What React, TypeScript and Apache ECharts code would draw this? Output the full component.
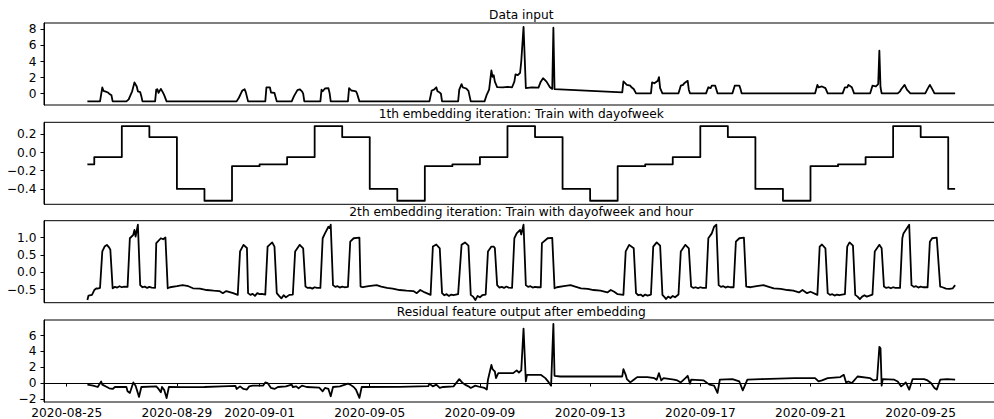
import React, { useEffect, useRef } from "react";
import * as echarts from "echarts";

// ---------- data ----------
const START = Date.UTC(2020, 7, 25); // 2020-08-25 00:00 UTC
const HOUR = 3600000;
const X_MIN_H = -19.8;
const X_MAX_H = 811.8;
const DATA_START_H = 18;
const DATA_END_H = 774;

const TICK_DATES = [
  "2020-08-25", "2020-08-29", "2020-09-01", "2020-09-05", "2020-09-09",
  "2020-09-13", "2020-09-17", "2020-09-21", "2020-09-25",
];

const TITLES = [
  "Data input",
  "1th embedding iteration: Train with dayofweek",
  "2th embedding iteration: Train with dayofweek and hour",
  "Residual feature output after embedding",
];

// [hours since 2020-08-25 00:00, value]
const INPUT: [number, number][] = [
  [18,-0.95],[29,-0.95],[31,0.78],[32,0.35],[34,0.25],[36,0.15],[37,0.0],[39,-0.2],[40,-0.95],
  [52,-0.95],[54,-0.7],[55,-0.35],[57,0.3],[59,1.4],[61,0.9],[62,0.3],[64,0.2],[65,-0.3],[66,-0.95],
  [77,-0.95],[78,0.5],[79,0.55],[80,0.1],[82,0.6],[84,0.1],[85,-0.2],[87,-0.95],
  [148,-0.95],[150,-0.5],[152,0.1],[153,0.4],[155,0.55],[156,0.2],[158,-0.95],
  [173,-0.95],[174,0.8],[177,0.8],[178,0.15],[181,0.1],[183,-0.95],
  [196,-0.95],[198,-0.3],[200,0.2],[201,0.45],[203,0.55],[205,0.3],[206,0.0],[207,-0.95],
  [221,-0.95],[222,0.5],[223,0.3],[225,0.65],[228,0.7],[229,0.1],[230,-0.95],
  [245,-0.95],[246,0.7],[248,0.4],[250,0.35],[252,0.3],[253,0.0],[255,-0.95],
  [316,-0.95],[318,0.4],[320,0.5],[322,0.8],[323,0.3],[325,0.15],[326,0.0],[327,-0.95],
  [341,-0.95],[342,0.5],[344,1.2],[345,0.8],[348,0.65],[350,0.35],[352,-0.95],
  [364,-0.95],[366,-0.1],[368,0.5],[370,2.9],[371,2.1],[372,2.3],[373,1.5],[375,0.83],[380,0.8],[384,0.85],[388,0.8],
  [390,1.5],[391,2.4],[393,2.3],[395,2.6],[396,4.0],[398,8.3],[400,0.7],[405,0.8],[411,0.75],
  [413,1.5],[415,1.93],[418,1.5],[421,0.8],[423,0.6],[424,8.2],[425,0.58],
  [484,0.17],[485,1.52],[488,1.1],[491,1.0],[492,0.8],[494,0.58],[496,0.05],
  [509,0.05],[510,1.4],[512,1.3],[515,1.6],[516,2.06],[517,0.7],[519,0.05],
  [533,0.05],[535,1.0],[537,1.1],[538,1.3],[541,1.6],[542,0.5],[543,0.05],
  [557,0.05],[559,0.8],[561,0.7],[562,1.0],[565,1.0],[567,0.05],
  [580,0.05],[582,1.0],[586,1.0],[587,0.6],[588,0.05],
  [652,0.05],[654,1.1],[655,0.8],[658,0.9],[661,0.7],[663,0.05],
  [676,0.05],[678,0.8],[680,0.8],[681,1.1],[684,0.8],[686,0.05],
  [700,0.05],[702,1.0],[705,0.9],[707,1.2],[708,5.35],[709,0.8],[710,0.05],
  [724,0.05],[726,0.3],[727,0.55],[730,1.1],[732,0.5],[735,0.05],
  [748,0.05],[750,0.6],[752,1.1],[754,0.6],[756,0.05],[774,0.05],
];

// one value per day, 2020-08-25 .. 2020-09-26
const DAY_EMBED: number[] = [
  -0.13, -0.05, 0.29, 0.17, -0.40, -0.53, -0.15,
  -0.13, -0.05, 0.29, 0.17, -0.40, -0.53, -0.15,
  -0.13, -0.05, 0.29, 0.17, -0.40, -0.53, -0.15,
  -0.13, -0.05, 0.29, 0.17, -0.40, -0.53, -0.15,
  -0.13, -0.05, 0.29, 0.17, -0.40,
];

const HOUR_EMBED: [number, number][] = [
  [18,-0.80],[19,-0.67],[22,-0.65],[24,-0.51],[26,-0.46],[27,-0.47],[29,-0.45],[31,0.60],[33,0.74],[35,0.79],[37,0.71],[38,0.65],[39,0.1],[40,-0.46],
  [42,-0.42],[44,-0.44],[46,-0.40],[48,-0.43],[50,-0.41],[53,-0.42],
  [55,0.98],[58,1.08],[59,1.22],[60,1.03],[62,1.37],[64,-0.37],
  [66,-0.43],[68,-0.41],[70,-0.45],[72,-0.42],[74,-0.44],[77,-0.45],
  [78,0.84],[82,0.98],[84,0.95],[86,1.0],[88,-0.46],
  [90,-0.43],[96,-0.40],[101,-0.37],[106,-0.40],[110,-0.46],[116,-0.47],[122,-0.51],[128,-0.53],[133,-0.54],[136,-0.60],[139,-0.54],[142,-0.57],[145,-0.60],[149,-0.65],
  [151,0.60],[154,0.79],[157,0.70],[158,-0.60],
  [160,-0.65],[162,-0.62],[164,-0.68],[166,-0.60],[168,-0.63],[170,-0.62],[173,-0.64],
  [175,0.74],[179,0.86],[181,0.74],[183,-0.60],
  [185,-0.68],[187,-0.75],[189,-0.66],[191,-0.72],[194,-0.65],[197,-0.64],
  [199,0.60],[203,0.79],[206,0.69],[208,-0.41],
  [210,-0.45],[212,-0.44],[214,-0.47],[216,-0.43],[218,-0.45],[221,-0.45],
  [223,0.98],[225,1.12],[228,1.31],[229,1.27],[230,1.37],[232,-0.37],
  [234,-0.42],[236,-0.40],[238,-0.44],[240,-0.41],[242,-0.43],[245,-0.42],
  [247,0.88],[250,0.98],[255,1.0],[256,-0.41],
  [258,-0.43],[263,-0.40],[270,-0.37],[274,-0.41],[279,-0.45],[284,-0.47],[290,-0.51],[296,-0.53],[302,-0.54],[305,-0.60],[308,-0.51],[312,-0.58],[317,-0.65],
  [319,0.74],[322,0.80],[325,0.69],[327,-0.60],
  [329,-0.66],[331,-0.63],[333,-0.68],[335,-0.64],[337,-0.66],[341,-0.63],
  [344,0.79],[347,0.86],[350,0.77],[352,-0.65],
  [354,-0.70],[356,-0.80],[358,-0.68],[360,-0.72],[362,-0.66],[365,-0.64],
  [367,0.60],[370,0.74],[372,0.74],[373,0.70],[375,-0.37],
  [377,-0.44],[379,-0.42],[381,-0.45],[383,-0.41],[385,-0.44],[388,-0.45],
  [390,0.98],[392,1.12],[395,1.22],[396,1.09],[398,1.37],[400,-0.37],
  [402,-0.42],[404,-0.40],[406,-0.44],[408,-0.42],[410,-0.43],[413,-0.43],
  [414,0.84],[419,0.98],[423,0.99],[425,-0.46],
  [427,-0.43],[433,-0.40],[439,-0.37],[443,-0.41],[448,-0.46],[454,-0.48],[459,-0.51],[465,-0.53],[471,-0.58],[474,-0.51],[477,-0.56],[480,-0.63],[485,-0.65],
  [487,0.60],[490,0.79],[494,0.69],[496,-0.60],
  [498,-0.66],[500,-0.64],[502,-0.69],[504,-0.64],[506,-0.67],[509,-0.64],
  [511,0.74],[514,0.86],[517,0.77],[519,-0.65],
  [521,-0.72],[522,-0.77],[524,-0.70],[526,-0.74],[528,-0.68],[530,-0.72],[533,-0.64],
  [535,0.60],[539,0.79],[542,0.69],[544,-0.41],
  [546,-0.45],[548,-0.43],[550,-0.46],[552,-0.43],[554,-0.45],[557,-0.45],
  [559,0.98],[562,1.12],[564,1.31],[566,1.37],[568,-0.37],
  [570,-0.42],[572,-0.40],[574,-0.44],[576,-0.41],[578,-0.43],[581,-0.43],
  [583,0.88],[586,0.98],[590,1.0],[592,-0.41],
  [596,-0.43],[601,-0.40],[607,-0.37],[611,-0.41],[616,-0.46],[622,-0.48],[628,-0.51],[633,-0.53],[638,-0.58],[641,-0.51],[645,-0.60],[648,-0.56],[654,-0.65],
  [656,0.74],[658,0.80],[661,0.69],[663,-0.60],
  [665,-0.65],[667,-0.63],[669,-0.67],[671,-0.64],[673,-0.66],[678,-0.63],
  [680,0.74],[682,0.86],[685,0.77],[687,-0.65],
  [689,-0.70],[691,-0.77],[693,-0.70],[695,-0.66],[697,-0.70],[702,-0.64],
  [704,0.60],[708,0.79],[710,0.69],[712,-0.41],
  [714,-0.45],[716,-0.43],[718,-0.46],[720,-0.43],[722,-0.45],[726,-0.45],
  [728,0.98],[729,1.12],[732,1.27],[734,1.37],[736,-0.37],
  [738,-0.42],[740,-0.40],[742,-0.44],[744,-0.41],[746,-0.43],[750,-0.43],
  [752,0.88],[754,0.98],[758,1.0],[761,-0.41],
  [763,-0.43],[766,-0.47],[769,-0.48],[772,-0.46],[774,-0.37],
];

const RESIDUAL: [number, number][] = [
  [18,-0.20],[23,-0.33],[27,-0.50],[30,0.20],[31,-0.20],[35,-0.50],[37,-0.67],[40,-0.75],[42,-0.50],[52,-0.50],[53,-1.04],[55,-1.25],[58,0.08],[60,-0.33],[63,-1.75],[65,-0.50],
  [78,-0.42],[80,-0.75],[82,-1.17],[83,-0.50],[85,-0.90],[87,-1.90],[89,-0.50],[100,-0.52],[120,-0.50],[135,-0.42],[147,-0.35],
  [148,-0.75],[151,-0.42],[154,-0.75],[157,-0.83],[159,-0.42],[162,-0.33],[171,-0.33],[173,0.08],[175,0.0],[178,-0.62],[181,-0.75],[184,-0.50],[191,-0.42],
  [196,-0.20],[197,-0.50],[200,-0.42],[202,-0.67],[205,-0.33],[209,-0.50],[220,-0.58],[223,-1.04],[225,-0.62],[228,-0.75],[230,-1.67],[232,-0.50],[238,-0.42],
  [245,-0.08],[247,-0.20],[250,-0.50],[252,-0.83],[255,-1.87],[257,-0.50],[290,-0.48],[315,-0.40],
  [316,-0.08],[319,-0.42],[322,-0.20],[325,-0.62],[328,-0.50],[337,-0.42],[342,0.50],[345,0.0],[347,-0.20],[350,-0.42],[352,-0.62],[356,-0.33],[360,-0.50],[364,-0.62],[366,-0.83],
  [367,0.42],[370,2.30],[371,1.75],[372,1.60],[373,1.46],[374,0.62],[376,1.25],[389,1.25],[392,1.60],[394,1.33],[396,1.60],[398,6.90],[400,0.20],[401,1.04],[413,1.04],[417,0.62],[420,0.08],[422,-0.33],[424,7.50],[425,0.92],[430,0.83],
  [484,0.83],[485,1.75],[487,1.04],[488,0.50],[491,0.08],[494,0.42],[497,0.75],[506,0.75],[512,0.62],[514,0.42],[516,1.25],[518,0.33],[520,0.62],[529,0.42],[532,0.33],[535,0.08],[539,0.62],[541,0.92],[543,-0.08],[544,0.42],
  [555,0.33],[560,-0.20],[564,-0.33],[567,-1.25],[569,0.42],[580,0.50],[586,0.20],[589,-0.92],[593,0.42],[605,0.50],[634,0.62],
  [652,0.62],[655,0.20],[658,0.33],[663,0.62],[674,0.75],[677,1.04],[679,0.08],[681,0.20],[684,0.0],[689,0.83],[700,0.62],[703,0.33],[706,0.42],[708,4.58],[709,4.40],[710,-0.33],[711,0.50],
  [721,0.42],[724,0.20],[727,-0.42],[729,-0.20],[731,0.08],[734,-0.83],[737,0.50],[747,0.50],[750,0.33],[753,0.0],[756,-0.62],[758,-0.83],[761,0.42],[767,0.50],[774,0.42],
];

const Y_LIMITS: [number, number][] = [
  [-1.40, 8.78],
  [-0.569, 0.332],
  [-0.875, 1.485],
  [-2.40, 7.98],
];
const Y_TICKS: number[][] = [
  [0, 2, 4, 6, 8],
  [-0.4, -0.2, 0.0, 0.2],
  [-0.5, 0.0, 0.5, 1.0],
  [-2, 0, 2, 4, 6],
];
const Y_DECIMALS = [0, 1, 1, 0];

// ---------- layout ----------
const GRID_TOPS = [23, 122.3, 220.7, 320];
const GRID_HEIGHT = 82;
const GRID_LEFT = 44;
const GRID_WIDTH = 954.5;
const FONT = "DejaVu Sans";
const FONT_SIZE = 12.2;

const toMs = (h: number) => START + h * HOUR;
const fmtNum = (v: number, d: number) => {
  const s = Math.abs(v).toFixed(d);
  return (v < -1e-9 ? "\u2212" : "") + s;
};
const fmtDate = (ms: number) => {
  const dt = new Date(ms);
  const mm = String(dt.getUTCMonth() + 1).padStart(2, "0");
  const dd = String(dt.getUTCDate()).padStart(2, "0");
  return `${dt.getUTCFullYear()}-${mm}-${dd}`;
};

export default function App() {
  const ref = useRef<HTMLDivElement>(null);

  useEffect(() => {
    if (!ref.current) return;
    const chart = echarts.init(ref.current, undefined, { renderer: "svg" });

    const tickMs = TICK_DATES.map((s) => Date.parse(s + "T00:00:00Z"));

    const dayPoints: [number, number][] = DAY_EMBED.map((v, i) => [
      toMs(i === 0 ? DATA_START_H : i * 24),
      v,
    ]);
    dayPoints.push([toMs(DATA_END_H), DAY_EMBED[DAY_EMBED.length - 1]]);

    const seriesData: [number, number][][] = [
      INPUT.map(([h, v]) => [toMs(h), v]),
      dayPoints,
      HOUR_EMBED.map(([h, v]) => [toMs(h), v]),
      RESIDUAL.map(([h, v]) => [toMs(h), v]),
    ];

    const grids = GRID_TOPS.map((top) => ({
      left: GRID_LEFT,
      top,
      width: GRID_WIDTH,
      height: GRID_HEIGHT,
      show: true,
      borderColor: "#000",
      borderWidth: 1,
      backgroundColor: "transparent",
      containLabel: false,
      outerBoundsMode: "none",
    }));

    const xAxes = GRID_TOPS.map((_, i) => {
      const bottom = i === GRID_TOPS.length - 1;
      return {
        type: "value",
        gridIndex: i,
        min: toMs(X_MIN_H),
        max: toMs(X_MAX_H),
        show: bottom,
        splitLine: { show: false },
        axisLine: { show: bottom, lineStyle: { color: "#000", width: 1 } },
        axisTick: {
          show: bottom,
          inside: false,
          length: 3.5,
          lineStyle: { color: "#000", width: 1 },
          customValues: tickMs,
        },
        axisLabel: {
          show: bottom,
          customValues: tickMs,
          formatter: (v: number) => fmtDate(v),
          color: "#000",
          fontSize: FONT_SIZE,
          fontFamily: FONT,
          lineHeight: 12,
          margin: 4.5,
          hideOverlap: false,
        },
      };
    });

    const yAxes = GRID_TOPS.map((_, i) => ({
      type: "value",
      gridIndex: i,
      min: Y_LIMITS[i][0],
      max: Y_LIMITS[i][1],
      splitLine: { show: false },
      axisLine: { show: true, lineStyle: { color: "#000", width: 1 } },
      axisTick: {
        show: true,
        inside: false,
        length: 3.5,
        lineStyle: { color: "#000", width: 1 },
        customValues: Y_TICKS[i],
      },
      axisLabel: {
        customValues: Y_TICKS[i],
        formatter: (v: number) => fmtNum(v, Y_DECIMALS[i]),
        color: "#000",
        fontSize: FONT_SIZE,
        fontFamily: FONT,
        margin: 7.5,
        showMinLabel: true,
        showMaxLabel: true,
      },
    }));

    const series = seriesData.map((data, i) => ({
      type: "line",
      xAxisIndex: i,
      yAxisIndex: i,
      data,
      showSymbol: false,
      symbol: "none",
      silent: true,
      step: i === 1 ? "end" : false,
      lineStyle: { color: "#000", width: 1.8, join: "round" },
      clip: true,
    }));

    const graphic = TITLES.map((t, i) => ({
      type: "text",
      x: GRID_LEFT + GRID_WIDTH / 2,
      y: GRID_TOPS[i] - 8.5,
      silent: true,
      style: {
        text: t,
        fill: "#000",
        fontSize: FONT_SIZE,
        fontFamily: FONT,
        align: "center",
        verticalAlign: "middle",
      },
    }));

    chart.setOption({
      animation: false,
      textStyle: { fontFamily: FONT },
      grid: grids,
      xAxis: xAxes,
      yAxis: yAxes,
      series,
      graphic,
    } as any);

    return () => chart.dispose();
  }, []);

  return (
    <div
      ref={ref}
      style={{ position: "absolute", left: 0, top: 0, width: 994, height: 419 }}
    />
  );
}
